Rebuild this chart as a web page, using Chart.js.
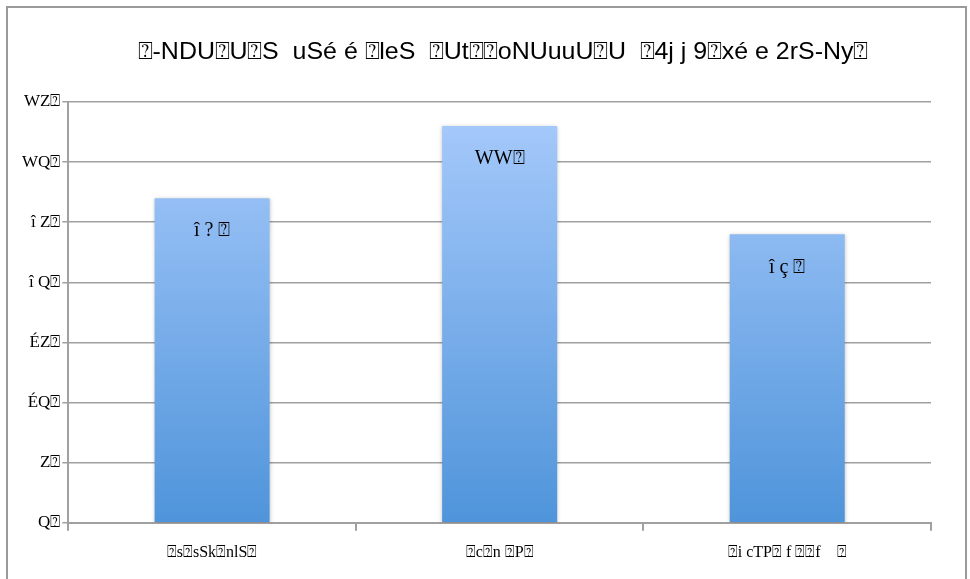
<!DOCTYPE html>
<html>
<head>
<meta charset="utf-8">
<script src="https://cdn.jsdelivr.net/npm/chart.js@4/dist/chart.umd.min.js"></script>
<style>
  html, body { margin: 0; padding: 0; background: #fff; }
  #frame { position: absolute; left: 6px; top: 6px; width: 961px; height: 580px; border: 2px solid #9a9a9a; border-bottom: none; box-sizing: border-box; }
  #wrap { position: absolute; left: 0; top: 0; width: 970px; height: 579px; }
</style>
</head>
<body>
<div id="frame"></div>
<div id="wrap"><canvas id="c" width="970" height="579"></canvas></div>
<script>
const titleText = '⍰-NDU⍰U⍰S  uSé é ⍰leS  ⍰Ut⍰⍰oNUuuU⍰U  ⍰4j j 9⍰xé e 2rS-Ny⍰';
const categories = ['⍰s⍰sSk⍰nlS⍰', '⍰c⍰n ⍰P⍰', '⍰i cTP⍰ f ⍰⍰f    ⍰'];
const values = [27, 33, 24];
const valueLabels = ['î ? ⍰', 'WW⍰', 'î ç ⍰'];
const tickValues = [0, 5, 10, 15, 20, 25, 30, 35];
const tickLabels = ['Q⍰', 'Z⍰', 'ÉQ⍰', 'ÉZ⍰', 'î Q⍰', 'î Z⍰', 'WQ⍰', 'WZ⍰'];

const serif = '"Liberation Serif", "Times New Roman", serif';
const sans = '"Liberation Sans", Arial, sans-serif';

const titlePlugin = {
  id: 'customTitle',
  afterDraw(chart) {
    const ctx = chart.ctx;
    ctx.save();
    ctx.font = '24px ' + sans;
    ctx.fillStyle = '#000';
    ctx.textAlign = 'center';
    ctx.textBaseline = 'middle';
    const w = ctx.measureText(titleText).width;
    const target = 730;
    const sx = Math.min(1.05, target / w);
    ctx.translate(503, 52);
    ctx.scale(sx, 1);
    ctx.fillText(titleText, 0, 0);
    ctx.restore();
  }
};

const valueLabelPlugin = {
  id: 'valueLabels',
  afterDatasetsDraw(chart) {
    const ctx = chart.ctx;
    const meta = chart.getDatasetMeta(0);
    ctx.save();
    ctx.font = '20px ' + serif;
    ctx.fillStyle = '#000';
    ctx.textAlign = 'center';
    ctx.textBaseline = 'middle';
    meta.data.forEach((bar, i) => {
      ctx.fillText(valueLabels[i], bar.x, bar.y + 33);
    });
    ctx.restore();
  }
};

const shadowPlugin = {
  id: 'barShadow',
  beforeDatasetsDraw(chart) {
    const ctx = chart.ctx;
    ctx.save();
    ctx.shadowColor = 'rgba(0,0,0,0.25)';
    ctx.shadowBlur = 4;
    ctx.shadowOffsetX = 0;
    ctx.shadowOffsetY = 1;
  },
  afterDatasetsDraw(chart) {
    chart.ctx.restore();
  }
};

new Chart(document.getElementById('c'), {
  type: 'bar',
  data: {
    labels: categories,
    datasets: [{
      data: values,
      backgroundColor(context) {
        const area = context.chart.chartArea;
        if (!area) return '#7ab0ea';
        const g = context.chart.ctx.createLinearGradient(0, area.top, 0, area.bottom);
        g.addColorStop(0, '#a9cbfc');
        g.addColorStop(1, '#4f94da');
        return g;
      },
      borderWidth: 0,
      barPercentage: 0.4,
      categoryPercentage: 1.0
    }]
  },
  plugins: [shadowPlugin, valueLabelPlugin, titlePlugin],
  options: {
    responsive: false,
    animation: false,
    layout: { padding: { left: 20, right: 39, top: 102, bottom: 5 } },
    plugins: {
      legend: { display: false },
      tooltip: { enabled: false },
      title: { display: false }
    },
    scales: {
      x: {
        offset: true,
        grid: {
          offset: true,
          display: true,
          drawOnChartArea: false,
          drawTicks: true,
          tickLength: 8,
          color: '#a0a0a0',
          lineWidth: 2
        },
        border: { display: true, color: '#a0a0a0', width: 2 },
        ticks: {
          color: '#000',
          font: { family: serif, size: 16 },
          padding: 12
        }
      },
      y: {
        min: 0,
        max: 35,
        afterBuildTicks(axis) {
          axis.ticks = tickValues.map(v => ({ value: v }));
        },
        grid: {
          color: '#a0a0a0',
          lineWidth: 1.5,
          drawTicks: true,
          tickLength: 6
        },
        border: { display: true, color: '#a0a0a0', width: 2 },
        ticks: {
          color: '#000',
          font: { family: serif, size: 17 },
          padding: 2,
          callback(value) {
            const i = tickValues.indexOf(value);
            return i >= 0 ? tickLabels[i] : '';
          }
        }
      }
    }
  }
});
</script>
</body>
</html>
